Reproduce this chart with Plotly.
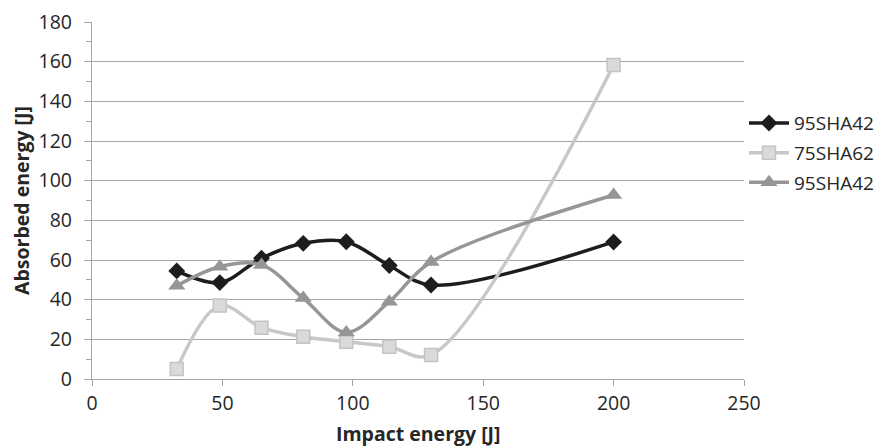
import plotly.graph_objects as go

impact = [32.5, 49, 65, 81, 97.5, 114, 130, 200]
s1_name = "95SHA42"
s1 = [54.5, 48.6, 60.9, 68.4, 69.2, 57.2, 47.4, 69.1]
s2_name = "75SHA62"
s2 = [5.0, 37.0, 25.9, 21.3, 18.8, 16.3, 12.1, 158.3]
s3_name = "95SHA42"
s3 = [47.0, 56.6, 57.5, 40.8, 23.5, 39.0, 59.0, 92.8]
x_title = "Impact energy [J]"
y_title = "Absorbed energy [J]"

FONT = "Open Sans"
grid = "#A6A6A6"
txt = "#262626"

fig = go.Figure()
fig.add_trace(go.Scatter(
    x=impact, y=s1, name=s1_name, mode="lines+markers", legendgroup="a",
    line=dict(color="#1E1C1D", width=3.5, shape="spline", smoothing=1),
    marker=dict(symbol="diamond", size=13, color="#1E1C1D"),
))
fig.add_trace(go.Scatter(
    x=impact, y=s2, name=s2_name, mode="lines+markers", legendgroup="b",
    line=dict(color="#C8C8C8", width=3.5, shape="spline", smoothing=1),
    marker=dict(symbol="square", size=13, color="#DADADA",
                line=dict(color="#C4C4C4", width=1.5)),
))
fig.add_trace(go.Scatter(
    x=impact, y=s3, name=s3_name, mode="lines+markers", legendgroup="c",
    line=dict(color="#969696", width=3.5, shape="spline", smoothing=1),
    marker=dict(symbol="triangle-up", size=15, color="#969696"),
))

fig.update_layout(
    width=874, height=438,
    margin=dict(l=84, r=138, t=14, b=67, autoexpand=False),
    paper_bgcolor="white", plot_bgcolor="white",
    font=dict(family=FONT, size=19, color=txt),
    showlegend=True,
    legend=dict(x=1.0, xanchor="left", y=0.77, yanchor="top",
                font=dict(family=FONT, size=19, color=txt),
                tracegroupgap=2, itemwidth=40,
                bgcolor="rgba(0,0,0,0)"),
    annotations=[dict(
        text="<b>" + x_title + "</b>", xref="paper", yref="paper",
        x=0.5, y=-0.152, xanchor="center", yanchor="middle", showarrow=False,
        font=dict(family=FONT, size=19.5, color=txt),
    )],
)
fig.update_xaxes(
    range=[0, 250], tickvals=[0, 50, 100, 150, 200, 250],
    showgrid=False, zeroline=False, automargin=False,
    showline=True, linecolor=grid, linewidth=1.3,
    ticks="outside", ticklen=6, tickcolor=grid, tickwidth=1.3,
    ticklabeloverflow="allow",
    tickfont=dict(family=FONT, size=19.5, color=txt),
)
fig.update_yaxes(
    range=[0, 180], dtick=20,
    showgrid=True, gridcolor=grid, gridwidth=1.3, zeroline=False, automargin=False,
    showline=True, linecolor=grid, linewidth=1.3,
    ticks="outside", ticklen=7, tickcolor=grid, tickwidth=1.3,
    ticklabelstandoff=8, ticklabeloverflow="allow",
    minor=dict(dtick=10, ticks="outside", ticklen=5, tickcolor=grid, tickwidth=1.3, showgrid=False),
    title=dict(text="<b>" + y_title + "</b>", font=dict(family=FONT, size=19.5, color=txt), standoff=5),
    tickfont=dict(family=FONT, size=19.5, color=txt),
)

fig.write_html("out.html")
